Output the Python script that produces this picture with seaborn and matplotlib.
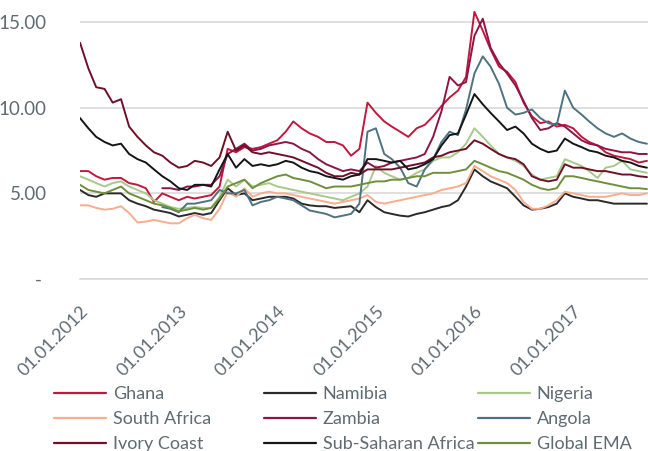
import numpy as np
import pandas as pd
import matplotlib
matplotlib.use("Agg")
import matplotlib.pyplot as plt
from matplotlib.lines import Line2D
from matplotlib.ticker import FuncFormatter
import matplotlib.transforms as mtransforms
import seaborn as sns

# monthly observations, Jan 2012 .. Oct 2017
dates = pd.date_range("2012-01-01", "2017-10-01", freq="MS")
nan = np.nan

ghana = [6.3, 6.3, 6.0, 5.8, 5.9, 5.9, 5.6, 5.5, 5.3, 4.5, 5.0, 4.8,
         4.6, 4.8, 4.7, 4.8, 4.9, 5.4, 7.6, 7.4, 7.7, 7.6, 7.7, 7.9,
         8.1, 8.6, 9.2, 8.8, 8.5, 8.3, 8.0, 8.0, 7.8, 7.2, 7.6, 10.3,
         9.7, 9.2, 8.9, 8.6, 8.3, 8.8, 9.0, 9.5, 10.1, 10.6, 11.0, 11.8,
         15.6, 14.5, 13.4, 12.4, 12.1, 11.5, 10.3, 9.5, 9.1, 9.2, 8.9, 9.0,
         8.8, 8.3, 8.0, 7.8, 7.4, 7.2, 7.1, 7.0, 6.8, 6.9]
namibia = [5.2, 4.9, 4.8, 5.0, 5.0, 5.0, 4.6, 4.4, 4.25, 4.05, 3.95, 3.85,
           3.65, 3.75, 3.85, 3.75, 3.85, 4.6, 5.3, 4.9, 5.0, 4.6, 4.7, 4.8,
           4.8, 4.8, 4.7, 4.4, 4.3, 4.25, 4.25, 4.15, 4.2, 4.25, 3.9, 4.6,
           4.2, 3.9, 3.8, 3.7, 3.65, 3.8, 3.9, 4.05, 4.2, 4.3, 4.6, 5.4,
           6.4, 6.0, 5.7, 5.5, 5.3, 4.8, 4.3, 4.05, 4.1, 4.2, 4.4, 5.0,
           4.8, 4.7, 4.6, 4.6, 4.5, 4.4, 4.4, 4.4, 4.4, 4.4]
nigeria = [6.0, 5.8, 5.6, 5.4, 5.6, 5.7, 5.4, 5.2, 5.0, 4.6, 4.4, 4.2,
           4.1, 4.15, 4.2, 4.15, 4.15, 4.8, 5.8, 5.4, 5.8, 5.4, 5.5, 5.6,
           5.4, 5.3, 5.2, 5.1, 5.0, 4.9, 4.8, 4.7, 4.6, 4.8, 5.0, 5.4,
           6.6, 6.2, 6.0, 5.8, 5.9, 6.2, 6.4, 6.9, 7.1, 7.1, 7.4, 7.9,
           8.8, 8.3, 7.8, 7.3, 7.1, 6.9, 6.6, 6.1, 5.8, 5.9, 6.0, 7.0,
           6.8, 6.6, 6.3, 5.9, 6.5, 6.6, 6.9, 6.4, 6.3, 6.2]
south_africa = [4.3, 4.3, 4.15, 4.05, 4.1, 4.25, 3.85, 3.3, 3.35, 3.45, 3.35, 3.25,
                3.25, 3.55, 3.75, 3.55, 3.45, 4.1, 5.1, 4.8, 5.3, 4.8, 5.0, 5.1,
                5.0, 5.0, 4.9, 4.8, 4.7, 4.6, 4.5, 4.4, 4.5, 4.6, 4.7, 4.9,
                4.5, 4.4, 4.5, 4.6, 4.7, 4.8, 4.9, 5.0, 5.2, 5.3, 5.4, 5.6,
                6.6, 6.3, 6.0, 5.8, 5.6, 5.2, 4.5, 4.1, 4.1, 4.3, 4.6, 5.1,
                5.0, 4.9, 4.8, 4.8, 4.8, 4.9, 5.0, 4.9, 4.9, 5.0]
zambia = [nan, nan, nan, nan, nan, nan, nan, nan, nan, nan, 5.3, 5.3,
          5.2, 5.4, 5.4, 5.5, 5.5, 6.0, 7.3, 7.6, 7.9, 7.5, 7.6, 7.8,
          7.9, 8.0, 7.9, 7.6, 7.4, 7.0, 6.7, 6.5, 6.3, 6.4, 6.3, 6.8,
          6.5, 6.6, 6.8, 6.9, 7.0, 7.1, 7.3, 8.3, 9.8, 11.8, 11.3, 11.5,
          14.2, 15.2, 13.5, 12.6, 12.0, 11.3, 10.4, 9.4, 8.7, 8.8, 9.1, 8.9,
          8.5, 8.1, 7.9, 7.8, 7.6, 7.5, 7.4, 7.4, 7.3, 7.3]
angola = [nan, nan, nan, nan, nan, nan, nan, nan, nan, nan, 4.2, 4.1,
          3.9, 4.4, 4.4, 4.5, 4.6, 5.2, 5.0, 5.0, 5.2, 4.3, 4.5, 4.6,
          4.8, 4.7, 4.6, 4.3, 4.0, 3.9, 3.8, 3.6, 3.7, 3.8, 4.4, 8.6,
          8.8, 7.3, 7.0, 6.5, 5.6, 5.4, 6.4, 7.0, 8.0, 8.6, 8.4, 9.9,
          12.0, 13.0, 12.4, 11.4, 10.0, 9.6, 9.7, 9.9, 9.4, 9.1, 9.0, 11.0,
          10.0, 9.6, 9.2, 8.8, 8.5, 8.3, 8.5, 8.2, 8.0, 7.9]
ivory_coast = [13.8, 12.3, 11.2, 11.1, 10.3, 10.5, 8.9, 8.3, 7.8, 7.4, 7.2, 6.8,
               6.5, 6.6, 6.9, 6.8, 6.6, 7.1, 8.6, 7.5, 7.8, 7.4, 7.3, 7.4,
               7.3, 7.2, 7.1, 6.9, 6.7, 6.5, 6.2, 6.0, 6.0, 6.2, 6.1, 6.4,
               6.4, 6.4, 6.4, 6.5, 6.6, 6.7, 6.8, 7.1, 7.2, 7.4, 7.5, 7.6,
               8.1, 7.9, 7.6, 7.3, 7.1, 7.0, 6.7, 6.0, 5.8, 5.7, 5.8, 6.7,
               6.5, 6.5, 6.4, 6.3, 6.3, 6.2, 6.1, 6.1, 6.0, 5.95]
ssa = [9.4, 8.8, 8.3, 8.0, 7.8, 7.9, 7.3, 7.0, 6.8, 6.4, 6.0, 5.7,
       5.3, 5.2, 5.5, 5.5, 5.4, 6.4, 7.3, 6.5, 7.0, 6.6, 6.7, 6.6,
       6.7, 6.9, 6.8, 6.5, 6.3, 6.2, 6.0, 5.9, 5.8, 6.0, 6.1, 7.0,
       7.0, 6.9, 6.8, 6.9, 6.4, 6.5, 6.7, 7.0, 7.8, 8.4, 8.5, 9.6,
       10.8, 10.2, 9.7, 9.2, 8.7, 8.9, 8.5, 7.9, 7.6, 7.4, 7.5, 8.2,
       7.9, 7.7, 7.5, 7.4, 7.2, 7.1, 6.9, 6.8, 6.6, 6.5]
global_ema = [5.5, 5.2, 5.1, 5.0, 5.2, 5.4, 5.0, 4.8, 4.6, 4.4, 4.3, 4.15,
              3.95, 4.05, 4.15, 4.05, 4.15, 4.7, 5.4, 5.6, 5.8, 5.3, 5.6, 5.8,
              6.0, 6.1, 5.9, 5.8, 5.7, 5.5, 5.3, 5.4, 5.4, 5.4, 5.5, 5.6,
              5.7, 5.7, 5.8, 5.8, 5.9, 6.0, 6.0, 6.2, 6.2, 6.2, 6.3, 6.4,
              6.9, 6.7, 6.5, 6.3, 6.2, 6.0, 5.8, 5.5, 5.3, 5.2, 5.3, 6.0,
              6.0, 5.9, 5.8, 5.7, 5.6, 5.5, 5.4, 5.3, 5.3, 5.25]

names = ["Ghana", "Namibia", "Nigeria", "South Africa", "Zambia", "Angola",
         "Ivory Coast", "Sub-Saharan Africa", "Global EMA"]
values = [ghana, namibia, nigeria, south_africa, zambia, angola,
          ivory_coast, ssa, global_ema]
colors = ["#c0183e", "#2a2a2a", "#a9c98b", "#f7ad8e", "#8c1546", "#4e7380",
          "#6e1028", "#151515", "#6f8f3d"]
palette = dict(zip(names, colors))

df = pd.concat(
    [pd.DataFrame({"date": dates, "value": v, "series": n}) for n, v in zip(names, values)],
    ignore_index=True,
)

sns.set_style("white")
plt.rcParams["font.family"] = ["Lato", "DejaVu Sans"]
text_col = "#5f6b73"

fig = plt.figure(figsize=(6.48, 4.51), dpi=100)
ax = fig.add_axes([80 / 648, 1 - 279 / 451, 568 / 648, 274 / 451])

sns.lineplot(data=df, x="date", y="value", hue="series", hue_order=names,
             palette=palette, linewidth=1.4, legend=False, ax=ax)

ax.set_xlim(pd.Timestamp("2012-01-01"), pd.Timestamp("2017-10-05"))
ax.set_ylim(0, 16)
ax.set_xlabel("")
ax.set_ylabel("")

ax.set_yticks([0, 5, 10, 15])
ax.yaxis.set_major_formatter(FuncFormatter(lambda v, p: "- " if v == 0 else f"{v:.2f}"))
ax.grid(axis="y", color="#d9d9d9", linewidth=1.2)
ax.set_axisbelow(True)
for s in ["top", "right", "left"]:
    ax.spines[s].set_visible(False)
ax.spines["bottom"].set_color("#d9d9d9")
ax.spines["bottom"].set_linewidth(1.2)

xt = pd.date_range("2012-01-01", "2017-01-01", freq="YS")
ax.set_xticks(xt)
ax.set_xticklabels([d.strftime("%d.%m.%Y") for d in xt], rotation=45,
                   ha="right", va="top", rotation_mode="anchor")
offset = mtransforms.ScaledTranslation(7 / 100, 0, fig.dpi_scale_trans)
for lab in ax.get_xticklabels():
    lab.set_transform(lab.get_transform() + offset)

ax.tick_params(axis="x", length=4, width=1.2, color="#d9d9d9", pad=13,
               labelsize=13, labelcolor=text_col)
ax.tick_params(axis="y", length=0, pad=24, labelsize=13.5, labelcolor=text_col)

# legend, three columns placed separately
col_x = [54, 264, 478]
for c in range(3):
    idx = [c, c + 3, c + 6]
    handles = [Line2D([0], [0], color=colors[i], lw=1.6) for i in idx]
    fig.legend(handles, [names[i] for i in idx], loc="upper left",
               bbox_to_anchor=(col_x[c] / 648, 1 - 386 / 451),
               frameon=False, borderpad=0, borderaxespad=0,
               handlelength=2.9, handletextpad=0.35, labelspacing=0.5,
               fontsize=13, labelcolor=text_col)

fig.savefig("out.png", dpi=100)
